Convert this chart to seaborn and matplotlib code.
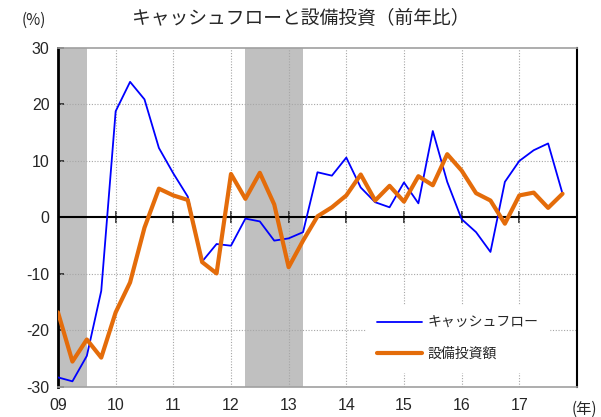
import numpy as np
import pandas as pd
import matplotlib
matplotlib.use('Agg')
import matplotlib.pyplot as plt
import seaborn as sns

# 四半期データ（2009Q1〜2017Q4、前年比 %）
quarters = np.arange(2009, 2018, 0.25)
cash_flow = [-28.3, -29.0, -24.5, -13.0, 18.8, 24.0, 20.9, 12.3,
             7.8, 3.7, -7.8, -4.7, -5.0, -0.2, -0.7, -4.1,
             -3.7, -2.6, 8.0, 7.4, 10.6, 5.3, 2.7, 1.8,
             6.2, 2.5, 15.3, 6.3, -0.3, -2.6, -6.1, 6.3,
             10.0, 11.9, 13.1, 4.2]
capex = [-16.8, -25.5, -21.6, -24.8, -16.8, -11.5, -1.8, 5.1,
         3.9, 3.1, -7.9, -9.9, 7.7, 3.3, 7.9, 2.3,
         -8.8, -4.1, 0.2, 1.8, 3.9, 7.6, 3.0, 5.6,
         2.8, 7.3, 5.7, 11.2, 8.3, 4.3, 3.0, -1.1,
         3.9, 4.4, 1.7, 4.2]
series_names = ['キャッシュフロー', '設備投資額']
series_colors = ['#0000FF', '#E46C0A']
# 景気後退期（シャドー）
recessions = [(2009.0, 2009.5), (2012.25, 2013.25)]
years = list(range(2009, 2018))
year_labels = ['09', '10', '11', '12', '13', '14', '15', '16', '17']
y_ticks = [-30, -20, -10, 0, 10, 20, 30]

df = pd.DataFrame({'quarter': np.concatenate([quarters, quarters]),
                   'value': cash_flow + capex,
                   'series': [series_names[0]] * 36 + [series_names[1]] * 36})

sns.set_style('white')
plt.rcParams['font.family'] = ['Liberation Sans', 'Noto Sans CJK JP']

fig = plt.figure(figsize=(6.01, 4.17), dpi=100)
ax = fig.add_axes([0.0965, 0.072, 0.8635, 0.813])

for start, end in recessions:
    ax.axvspan(start, end, color='#C0C0C0', lw=0, zorder=0)

# グリッド（点線）
for x in years[1:]:
    ax.axvline(x, color='#A6A6A6', lw=0.8, ls=(0, (1, 1.5)), zorder=1)
for y in [-20, -10, 10, 20]:
    ax.axhline(y, color='#A6A6A6', lw=0.8, ls=(0, (1, 1.5)), zorder=1)

sns.lineplot(data=df, x='quarter', y='value', hue='series',
             palette=dict(zip(series_names, series_colors)),
             size='series', sizes={series_names[0]: 1.3, series_names[1]: 3.0},
             ax=ax, zorder=3, legend=False)

ax.axhline(0, color='black', lw=1.5, zorder=2)

ax.set_xlim(2009, 2018)
ax.set_ylim(-30, 30)
ax.set_xticks(years)
ax.set_xticklabels(year_labels, fontsize=11.5)
ax.tick_params(axis='x', length=0, pad=8)
ax.set_yticks(y_ticks)
ax.set_yticklabels([str(v) for v in y_ticks], fontsize=11.5)
ax.tick_params(axis='y', direction='in', length=4, width=1.2, left=True, pad=6)
ax.set_xlabel('')
ax.set_ylabel('')

# ゼロ線上の目盛り
sec = ax.secondary_xaxis(0.5)
sec.set_xticks(years[1:])
sec.set_xticklabels([])
sec.tick_params(axis='x', direction='inout', length=8, width=1.2,
                labelbottom=False, labeltop=False)
sec.spines['bottom'].set_visible(False)
sec.spines['top'].set_visible(False)

ax.spines['left'].set_color('black')
ax.spines['left'].set_linewidth(2)
ax.spines['right'].set_color('black')
ax.spines['right'].set_linewidth(1.5)
ax.spines['top'].set_color('#A0A0A0')
ax.spines['top'].set_linewidth(1.2)
ax.spines['bottom'].set_color('#A0A0A0')
ax.spines['bottom'].set_linewidth(1.2)

handles = [plt.Line2D([], [], color=series_colors[0], lw=1.3),
           plt.Line2D([], [], color=series_colors[1], lw=3.0)]
leg = ax.legend(handles, series_names, loc='lower right', bbox_to_anchor=(0.96, 0.025),
                frameon=True, facecolor='white', edgecolor='white', framealpha=1,
                fontsize=10, handlelength=3.2, handletextpad=0.4,
                labelspacing=1.2, borderpad=0.8)
leg.set_zorder(5)

fig.text(0.5, 0.955, 'キャッシュフローと設備投資（前年比）', ha='center', va='center',
         fontsize=13.5, family=['Noto Sans CJK JP'])
fig.text(0.057, 0.952, '(%)', ha='center', va='center', fontsize=11,
         family=['Noto Sans CJK JP'])
fig.text(0.972, 0.018, '(年)', ha='center', va='center', fontsize=11,
         family=['Noto Sans CJK JP'])

fig.savefig('out.png', dpi=100)
